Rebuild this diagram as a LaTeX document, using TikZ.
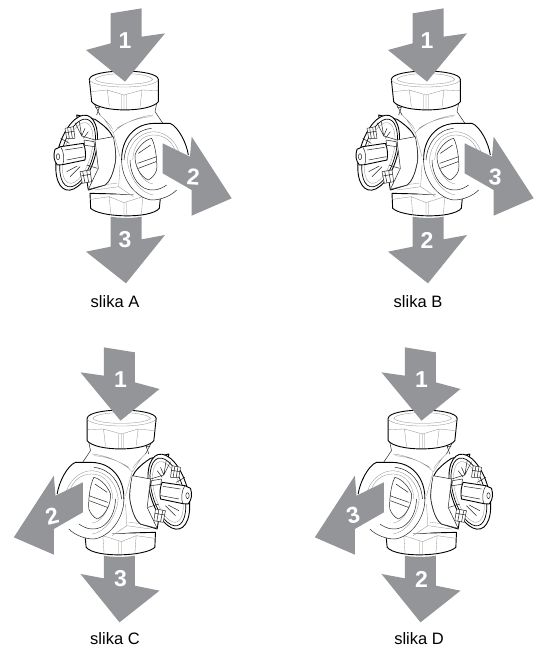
\documentclass[tikz,border=0pt]{standalone}
\usepackage{fontspec}
\setmainfont{Liberation Sans}
\definecolor{arrowgrey}{HTML}{939598}
\tikzset{
  x=1pt,y=-1pt,
  flowarrow/.style={fill=arrowgrey,draw=none},
  outline/.style={draw=black,line width=0.9pt,fill=white,line join=round},
  strong/.style={draw=black,line width=0.9pt,line join=round},
  edge/.style={draw=black!85,line width=0.5pt,line join=round},
  fine/.style={draw=black!45,line width=0.3pt},
  digit/.style={text=white,font=\fontsize{23}{23}\selectfont\bfseries,inner sep=0pt},
  caption/.style={text=black,font=\fontsize{16.5}{18}\selectfont,inner sep=0pt}
}
% #1 x origin, #2 y origin, #3 mirror, #4 side digit, #5 bottom digit, #6 prefix, #7 side digit rotation
\newcommand{\valvepic}[7]{%
\begin{scope}[shift={(#1,#2)},xscale=#3/3,yscale=1/3]
  % bottom collar
  \path[outline] (210,580) -- (212,625) .. controls (240,652) and (390,658) .. (418,625) -- (422,585) -- cycle;
  \draw[fine] (268,590) -- (272,645) (368,590) -- (364,648) (268,590) -- (312,608) -- (368,590)
     (312,608) -- (312,650) (320,608) -- (320,650) (212,598) -- (268,590) (368,590) -- (420,600);
  % body
  \path[fill=white] (222,310) -- (240,345) -- (215,380) -- (215,575) -- (420,590) -- (430,375) -- (405,335) -- (412,300) -- cycle;
  \draw[edge] (222,310) -- (240,345) (412,300) -- (405,335) -- (430,372);
  \draw[fine] (240,345) .. controls (260,360) and (270,390) .. (280,398) .. controls (300,375) and (350,350) .. (400,345)
     (280,398) -- (300,470) (245,350) .. controls (262,365) and (275,380) .. (278,388)
     (290,385) .. controls (320,365) and (360,352) .. (395,350)
     (300,495) -- (296,560) -- (340,590) (296,560) -- (225,570) (240,555) -- (290,550);
  % top collar
  \path[outline] (208,238) -- (215,305) .. controls (240,338) and (390,338) .. (415,305) -- (415,238) .. controls (412,205) and (212,205) .. (208,238) -- cycle;
  \draw[fine] (208,240) .. controls (225,268) and (400,268) .. (415,240)
     (225,238) .. controls (240,258) and (385,258) .. (398,238)
     (225,238) .. controls (240,215) and (385,215) .. (398,238)
     (262,270) -- (268,320) (366,270) -- (360,322)
     (262,270) -- (312,285) -- (366,270)
     (305,285) -- (305,328) (312,285) -- (312,328) (320,285) -- (320,328)
     (212,275) -- (262,270) (366,270) -- (414,272);
  \draw[edge] (226,322) -- (238,322) -- (230,345);
  % control head: band behind the disc
  \path[outline] (170,345) -- (225,358) .. controls (258,380) and (278,400) .. (280,420) .. controls (288,450) and (288,480) .. (285,490) .. controls (278,525) and (268,545) .. (255,555) -- (205,570) -- cycle;
  % disc
  \begin{scope}[shift={(170,458)},rotate=-16]
    \path[outline] (0,0) ellipse [x radius=56,y radius=116];
    \draw[draw=black,line width=0.7pt] (3,0) ellipse [x radius=47,y radius=105];
    \draw[fine] (3,0) ellipse [x radius=40,y radius=94];
  \end{scope}
  % band front patch and seam
  \path[fill=white,edge] (225,420) -- (280,410) .. controls (288,450) and (288,480) .. (285,490) .. controls (278,525) and (268,545) .. (255,555) -- (205,568) -- (235,505) -- cycle;
  % spokes and clips
  \draw[edge] (165,368) -- (185,408) (195,385) -- (185,408) (178,365) -- (185,408) (122,415) -- (148,430)
     (185,408) -- (225,420) (205,395) -- (190,415) (180,500) -- (150,530) (172,498) -- (140,515) (200,495) -- (232,505);
  \path[edge,fill=white] (135,385) -- (160,380) -- (165,415) -- (140,415) -- cycle;
  \draw[edge] (143,385) -- (148,415) (152,382) -- (157,414) (135,398) -- (163,394);
  \path[edge,fill=white] (180,515) -- (210,510) -- (215,545) -- (187,550) -- cycle;
  \draw[edge] (188,514) -- (195,549) (200,512) -- (206,547) (182,528) -- (212,523);
  \path[edge,fill=white] (192,420) -- (222,425) -- (224,440) -- (194,436) -- cycle;
  % stem
  \path[outline] (105,448) -- (122,440) -- (190,430) .. controls (197,445) and (198,465) .. (195,480) -- (128,494) -- (112,495) .. controls (100,480) and (100,465) .. (105,448) -- cycle;
  \draw[edge] (122,440) .. controls (132,455) and (134,480) .. (128,494)
     (135,450) -- (188,442) (140,480) -- (193,470);
  \draw[edge] (114,470) ellipse [x radius=5,y radius=9];
  % right port
  \path[fill=white] (305,480) .. controls (304,440) and (320,405) .. (350,385) .. controls (365,375) and (385,370) .. (405,370) -- (450,370) .. controls (475,380) and (500,430) .. (505,465) -- (470,570) .. controls (450,590) and (420,600) .. (395,600) .. controls (350,595) and (304,540) .. (305,480) -- cycle;
  \draw[strong] (505,465) .. controls (500,430) and (475,380) .. (450,370) -- (405,370) .. controls (385,370) and (365,375) .. (350,385) .. controls (320,405) and (304,440) .. (305,480);
  \draw[edge] (305,480) .. controls (304,540) and (350,595) .. (395,600) .. controls (420,600) and (450,590) .. (470,570);
  \draw[edge] (312,480) .. controls (316,430) and (345,390) .. (395,385);
  \draw[fine] (322,480) .. controls (326,435) and (355,398) .. (400,395) .. controls (440,395) and (475,430) .. (480,470)
     (322,480) .. controls (326,530) and (360,580) .. (400,585);
  \draw[edge] (330,480) .. controls (332,535) and (362,572) .. (400,570) .. controls (415,570) and (430,562) .. (440,555);
  \draw[fine] (338,480) .. controls (340,435) and (365,405) .. (400,405) .. controls (435,405) and (460,425) .. (470,465);
  \draw[fine] (352,500) .. controls (360,530) and (380,550) .. (400,552);
  \draw[edge] (345,465) .. controls (352,445) and (372,420) .. (395,415) .. controls (408,440) and (412,490) .. (410,510) .. controls (405,525) and (395,535) .. (385,540) .. controls (360,530) and (343,495) .. (345,465) -- cycle;
  \draw[edge] (355,460) -- (392,435) (353,490) -- (410,470) (355,505) -- (408,485);
  % flow arrows
  \path[flowarrow] (272,40) -- (365,25) -- (365,110) -- (435,100) -- (315,245) -- (198,150) -- (272,130) -- cycle;
  \path[flowarrow] (272,650) .. controls (300,655) and (340,655) .. (365,650) -- (365,718) -- (435,705) -- (318,850) -- (198,755) -- (272,740) -- cycle;
  \path[flowarrow] (428,430) -- (510,470) -- (515,410) -- (635,595) -- (515,647) -- (515,570) -- (428,520) -- cycle;
  % digits
  \node[digit] (#6top) at (315,122) {1};
  \node[digit,rotate=#7] (#6side) at (520,530) {#4};
  \node[digit] (#6bottom) at (315,720) {#5};
\end{scope}}
\begin{document}
\begin{tikzpicture}
  \useasboundingbox (0,0) rectangle (538,648);
  \valvepic{20}{0}{1}{2}{3}{a}{-4}
  \valvepic{322}{0}{1}{3}{2}{b}{-4}
  \valvepic{225.5}{339}{-1}{2}{3}{c}{14}
  \valvepic{526.5}{339}{-1}{3}{2}{d}{14}
  \node[caption] (capA) at (115,302) {slika A};
  \node[caption] (capB) at (418,302) {slika B};
  \node[caption] (capC) at (115,638.5) {slika C};
  \node[caption] (capD) at (419,638.5) {slika D};
\end{tikzpicture}
\end{document}
